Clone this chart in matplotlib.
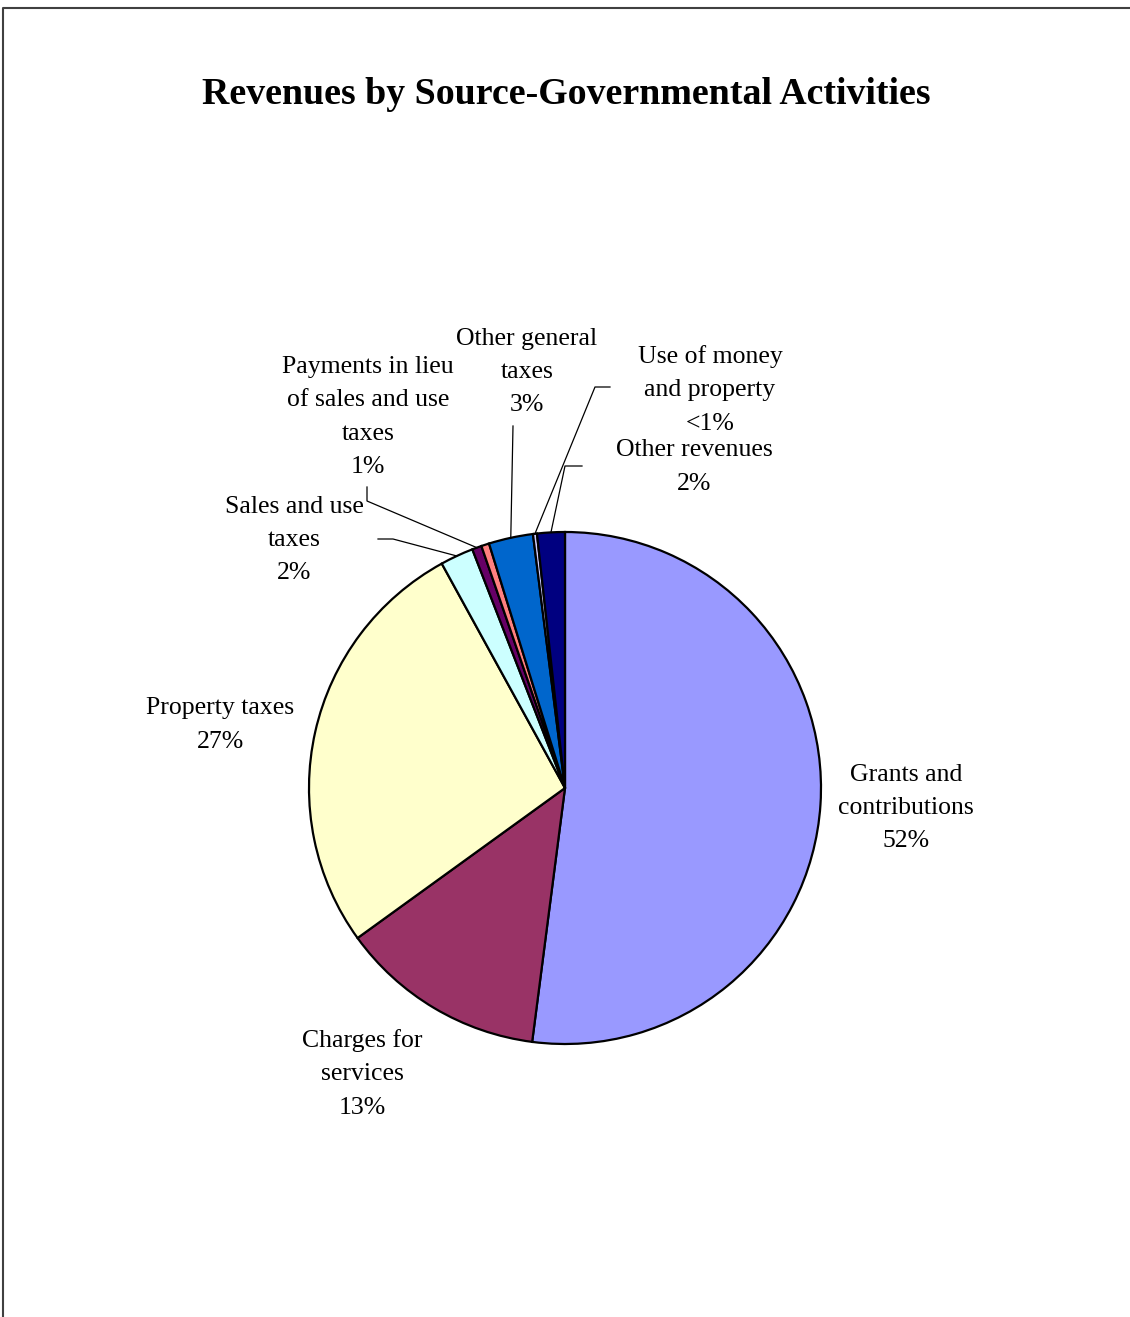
"""Revenues by Source - Governmental Activities (pie chart)."""

import matplotlib.pyplot as plt
import numpy as np

W, H = 1130, 1317

# Доли источников (в процентах), по часовой стрелке от 12 часов
sources = [
    "Grants and\ncontributions",
    "Charges for\nservices",
    "Property taxes",
    "Sales and use\ntaxes",
    "Payments in lieu\nof sales and use\ntaxes",
    "",
    "Other general\ntaxes",
    "Use of money\nand property",
    "Other revenues",
]
shares = [52.1, 13.0, 27.0, 2.1, 0.6, 0.5, 2.8, 0.25, 1.75]
pct_labels = ["52%", "13%", "27%", "2%", "1%", "", "3%", "<1%", "2%"]
colors = ["#9999FF", "#993366", "#FFFFCC", "#CCFFFF", "#660066",
          "#FF8080", "#0066CC", "#CCCCFF", "#000080"]

# Положения подписей (пиксели, центр блока текста) и изломы выносок
label_pos = [(906, 808), (362, 1074), (220, 725), (294, 540), (368, 417),
             None, (527, 372), (710, 390), (694, 467)]
leader_knee = [None, None, None, [(378, 539), (393, 539)],
               [(367, 487), (367, 501)], None,
               [(513, 426)], [(610, 387), (595, 387)], [(582, 466), (565, 466)]]

CX, CY, R = 565, 788, 256


def fy(y):
    return H - y


plt.rcParams["font.family"] = ["Liberation Serif", "DejaVu Serif"]

fig = plt.figure(figsize=(W / 100, H / 100), dpi=100)
ax = fig.add_axes([0, 0, 1, 1])

wedges, _ = ax.pie(
    shares, colors=colors, startangle=90, counterclock=False,
    center=(CX, fy(CY)), radius=R,
    wedgeprops=dict(edgecolor="black", linewidth=1.6),
)
ax.set_xlim(0, W)
ax.set_ylim(0, H)
ax.set_aspect("equal")
ax.axis("off")

# Рамка области диаграммы
ax.plot([3, 3, W + 5], [-5, fy(8), fy(8)], color="#404040", lw=1.5, clip_on=False)

ax.text(566, fy(95), "Revenues by Source-Governmental Activities",
        ha="center", va="center", fontsize=27.3, fontweight="bold")

for i, w in enumerate(wedges):
    if label_pos[i] is None:
        continue
    x, y = label_pos[i]
    ax.text(x, fy(y), sources[i] + "\n" + pct_labels[i],
            ha="center", va="center", multialignment="center",
            fontsize=18.5, linespacing=1.67)
    if leader_knee[i]:
        mid = np.deg2rad((w.theta1 + w.theta2) / 2)
        px = CX + R * np.cos(mid)
        py = fy(CY) + R * np.sin(mid)
        xs = [p[0] for p in leader_knee[i]] + [px]
        ys = [fy(p[1]) for p in leader_knee[i]] + [py]
        ax.plot(xs, ys, color="black", lw=0.9)

plt.savefig("out.png", dpi=100)
